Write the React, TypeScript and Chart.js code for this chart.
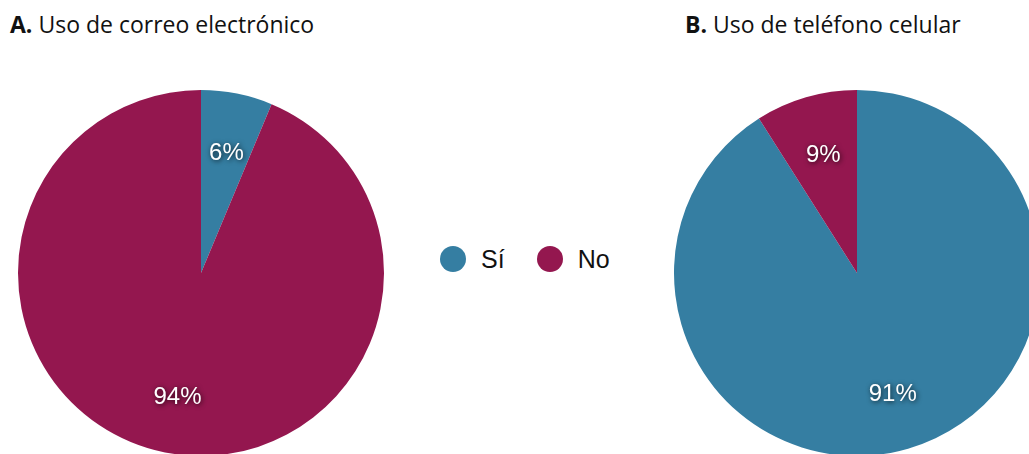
import React, { useEffect, useRef } from "react";
import { Chart, registerables } from "chart.js";

Chart.register(...registerables);

const categories = ["Sí", "No"];
const emailValues = [6.3, 93.7];
const phoneValues = [91, 9];
const titleA = ["A.", " Uso de correo electrónico"];
const titleB = ["B.", " Uso de teléfono celular"];
const colors = ["#357ea2", "#94174f"];

const labelPlugin = {
  id: "sliceLabels",
  afterDatasetsDraw(chart: any) {
    const ctx = chart.ctx;
    const meta = chart.getDatasetMeta(0);
    const data = chart.data.datasets[0].data as number[];
    const total = data.reduce((a, b) => a + b, 0);
    ctx.save();
    ctx.font = "24px 'Liberation Sans', Arial, sans-serif";
    ctx.fillStyle = "#ffffff";
    ctx.textAlign = "center";
    ctx.textBaseline = "middle";
    ctx.shadowColor = "rgba(0,0,0,0.8)";
    ctx.shadowBlur = 5;
    ctx.shadowOffsetX = 1;
    ctx.shadowOffsetY = 1;
    meta.data.forEach((arc: any, i: number) => {
      const mid = (arc.startAngle + arc.endAngle) / 2;
      const r = arc.outerRadius * 0.68;
      const x = arc.x + Math.cos(mid) * r + 1;
      const y = arc.y + Math.sin(mid) * r + 2;
      ctx.fillText(Math.round((data[i] / total) * 100) + "%", x, y);
    });
    ctx.restore();
  },
};

function Pie({ values, left }: { values: number[]; left: number }) {
  const ref = useRef<HTMLCanvasElement>(null);
  useEffect(() => {
    const chart = new Chart(ref.current!, {
      type: "pie",
      data: {
        labels: categories,
        datasets: [{ data: values, backgroundColor: colors, borderWidth: 0 }],
      },
      options: {
        animation: false,
        responsive: false,
        devicePixelRatio: 1,
        layout: { padding: 0 },
        plugins: { legend: { display: false }, tooltip: { enabled: false } },
      },
      plugins: [labelPlugin],
    });
    return () => chart.destroy();
  }, []);
  return (
    <div style={{ position: "absolute", left, top: 90, width: 366, height: 366 }}>
      <canvas ref={ref} width={366} height={366} style={{ width: 366, height: 366, display: "block" }} />
    </div>
  );
}

const titleStyle: React.CSSProperties = {
  position: "absolute",
  top: 9,
  fontFamily: "'Open Sans', sans-serif",
  fontSize: 23,
  color: "#111",
  whiteSpace: "nowrap",
  lineHeight: "30px",
};

export default function App() {
  return (
    <div
      style={{
        position: "fixed",
        left: 0,
        top: 0,
        width: 1029,
        height: 454,
        overflow: "hidden",
        background: "#fff",
      }}
    >
      <div style={{ ...titleStyle, left: 10 }}>
        <b>{titleA[0]}</b>
        {titleA[1]}
      </div>
      <div style={{ ...titleStyle, left: 685 }}>
        <b>{titleB[0]}</b>
        {titleB[1]}
      </div>
      <Pie values={emailValues} left={18} />
      <Pie values={phoneValues} left={674} />
      <div
        style={{
          position: "absolute",
          left: 440,
          top: 245,
          display: "flex",
          alignItems: "center",
          fontFamily: "'Liberation Sans', Arial, sans-serif",
          fontSize: 25,
          color: "#111",
          height: 28,
        }}
      >
        {categories.map((c, i) => (
          <div key={c} style={{ display: "flex", alignItems: "center", marginRight: i === 0 ? 32 : 0 }}>
            <span
              style={{
                display: "inline-block",
                width: 26,
                height: 26,
                borderRadius: 13,
                background: colors[i],
                marginRight: 15,
              }}
            />
            <span>{c}</span>
          </div>
        ))}
      </div>
    </div>
  );
}
